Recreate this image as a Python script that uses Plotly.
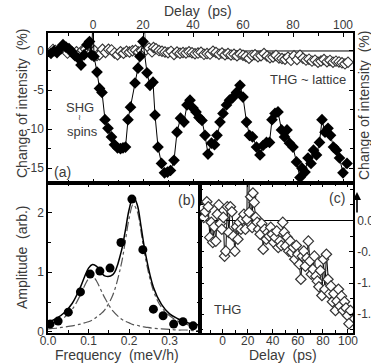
import plotly.graph_objects as go

# ---------------- data ----------------
# Panel (a): SHG (spins), filled diamonds
shg_delay = [-16.8, -15.6, -14.4, -13.2, -12.0, -10.8, -9.6, -8.4, -7.2, -6.0, -4.8, -3.6, -2.4, -1.4, -0.6,
             0.0, 0.4, 1.6, 2.6, 3.6, 4.8, 6.0, 7.4, 8.6, 9.8, 11.0, 12.0, 13.0, 14.0, 15.0, 16.8, 18.0, 18.8,
             20.0, 21.6, 22.8, 24.0, 24.8, 26.0, 27.4, 28.6, 29.8, 31.0, 32.4, 33.6, 35.0, 36.4, 37.6, 38.8,
             40.0, 41.2, 42.4, 43.6, 44.8, 46.0, 47.4, 48.6, 49.6, 50.8, 52.0, 53.4, 54.6, 55.8, 57.4, 58.8,
             60.0, 61.4, 62.6, 63.8, 65.4, 66.8, 68.0, 69.4, 70.6, 71.6, 72.8, 74.0, 75.4, 76.6, 77.6, 78.6,
             80.0, 81.4, 82.8, 83.6, 84.8, 86.0, 87.2, 88.2, 89.4, 90.6, 91.6, 92.8, 94.0, 95.0, 96.2, 97.4,
             98.6, 100.0, 101.6]
shg_value = [-0.3, 0.0, -0.2, 0.3, 0.8, 0.5, 0.3, -0.1, -0.6, -0.9, -1.8, -0.5, 0.8, 1.2, -0.5,
             4.0, -0.7, -2.7, -4.8, -5.3, -8.8, -9.9, -11.0, -12.0, -12.4, -12.5, -12.4, -12.3, -8.8, -7.2,
             -4.1, -2.2, -0.7, 1.2, -2.8, -4.4, -4.0, -8.2, -12.3, -14.4, -15.6, -15.5, -15.3, -14.0, -10.4,
             -8.6, -9.1, -6.9, -6.3, -7.3, -7.8, -8.5, -8.9, -10.8, -13.2, -11.8, -12.0, -10.8, -9.1, -8.0,
             -6.9, -6.3, -6.0, -5.3, -4.4, -5.9, -9.1, -10.8, -11.0, -12.3, -13.3, -12.1, -11.7, -11.7, -8.8,
             -8.0, -7.8, -10.1, -11.0, -10.1, -11.8, -12.3, -14.2, -16.2, -15.0, -15.5, -13.7, -14.4, -12.7,
             -13.3, -11.7, -8.8, -10.4, -9.9, -10.8, -12.3, -12.7, -13.7, -15.6, -14.4]

# THG (lattice), open diamonds, shown in panel (a) and enlarged in panel (c)
thg_delay = [-16.0, -15.0, -13.8, -12.6, -11.4, -10.2, -9.0, -7.8, -6.6, -5.4, -4.2, -3.0, -1.8, -0.6, 0.6,
             1.6, 2.6, 3.8, 5.0, 6.2, 7.4, 8.6, 9.8, 11.0, 12.2, 13.4, 14.6, 15.8, 17.0, 18.2, 19.4, 20.6,
             21.2, 22.4, 23.6, 24.2, 25.2, 26.4, 27.6, 28.8, 30.0, 31.2, 32.4, 33.6, 34.8, 36.0, 37.2, 38.4,
             39.6, 40.8, 42.0, 43.2, 44.4, 45.6, 46.8, 48.0, 49.2, 50.4, 51.6, 52.8, 54.0, 55.2, 56.4, 57.6,
             58.8, 60.0, 61.2, 62.4, 63.6, 64.8, 66.0, 67.2, 68.4, 69.6, 70.8, 72.0, 73.2, 74.4, 75.6, 76.8,
             78.0, 79.2, 80.4, 81.6, 82.8, 84.0, 85.2, 86.4, 87.6, 88.8, 90.0, 91.2, 92.4, 93.6, 94.8, 96.0,
             97.2, 98.4, 99.6, 100.8, 102.0]
thg_value = [0.20, 0.05, 0.14, 0.30, 0.22, -0.27, -0.03, -0.35, -0.10, -0.33, 0.10, 0.25, -0.05, -0.14, 0.05,
             -0.57, -0.49, 0.22, -0.19, 0.22, 0.14, -0.25, -0.49, -0.10, -0.30, -0.03, -0.14, 0.02, 0.10, -0.14,
             0.02, 3.0, 0.13, 0.38, -0.11, 0.44, 0.29, 0.05, -0.03, -0.14, -0.22, -0.05, -0.46, -0.14, -0.30,
             -0.19, -0.25, -0.11, -0.22, -0.35, -0.27, -0.17, -0.43, -0.33, -0.40, -0.03, -0.19, -0.41, -0.27,
             -0.49, -0.33, -0.51, -0.43, -0.62, -0.40, -0.54, -0.70, -0.94, -0.57, -0.49, -0.73, -0.60, -0.33,
             -0.65, -0.86, -0.78, -0.57, -0.89, -0.97, -1.06, -0.80, -1.20, -0.62, -1.10, -0.54, -0.94, -1.17,
             -1.05, -1.30, -1.17, -1.44, -1.29, -1.10, -1.37, -1.21, -1.44, -1.30, -1.40, -1.52, -1.65, -1.44]

# Panel (b): spectral amplitude
freq_pts = [0.005, 0.025, 0.05, 0.08, 0.104, 0.128, 0.153, 0.18, 0.207, 0.234, 0.26, 0.284, 0.31, 0.333, 0.358]
amp_pts = [0.13, 0.18, 0.33, 0.67, 0.97, 1.02, 1.07, 1.50, 2.23, 1.38, 0.38, 0.27, 0.13, 0.17, 0.10]

fit_freq = [0.0, 0.02, 0.04, 0.06, 0.08, 0.09, 0.10, 0.11, 0.12, 0.13, 0.14, 0.16, 0.18, 0.19, 0.20, 0.21,
            0.22, 0.23, 0.24, 0.26, 0.28, 0.30, 0.32, 0.34, 0.36, 0.375]
fit_total = [0.16, 0.22, 0.32, 0.48, 0.75, 0.92, 1.07, 1.13, 1.10, 1.01, 0.94, 0.96, 1.33, 1.67, 2.05, 2.27,
             2.14, 1.75, 1.33, 0.75, 0.46, 0.30, 0.22, 0.16, 0.13, 0.11]
fit_low = [0.11, 0.16, 0.24, 0.38, 0.62, 0.77, 0.89, 0.93, 0.85, 0.71, 0.57, 0.35, 0.22, 0.18, 0.15, 0.12,
           0.11, 0.09, 0.08, 0.06, 0.05, 0.04, 0.03, 0.03, 0.02, 0.02]
fit_high = [0.05, 0.06, 0.08, 0.10, 0.13, 0.15, 0.17, 0.20, 0.25, 0.30, 0.37, 0.62, 1.11, 1.49, 1.90, 2.14,
            2.03, 1.66, 1.25, 0.69, 0.41, 0.27, 0.18, 0.13, 0.10, 0.09]

delay_ticks = [0, 20, 40, 60, 80, 100]
a_yticks = [0, -5, -10, -15]
b_xticks = [0.0, 0.1, 0.2, 0.3]
b_yticks = [0, 1, 2]
c_yticks = [0.0, -0.5, -1.0, -1.5]

# ---------------- figure ----------------
W, H = 371, 364
FONT = "Liberation Sans, Arial, sans-serif"
TXT = "#3a3a3a"


def px(x):
    return x / W


def py(y):
    return 1 - y / H


fig = go.Figure()

# panel (a)
fig.add_trace(go.Scatter(x=thg_delay, y=thg_value, mode="lines+markers", xaxis="x", yaxis="y",
                         line=dict(color="#444", width=0.8),
                         marker=dict(symbol="diamond", size=8, color="white",
                                     line=dict(color="#333", width=1.1)),
                         showlegend=False))
fig.add_trace(go.Scatter(x=shg_delay, y=shg_value, mode="lines+markers", xaxis="x", yaxis="y",
                         line=dict(color="black", width=1),
                         marker=dict(symbol="diamond", size=9, color="black"),
                         showlegend=False))

# panel (b)
fig.add_trace(go.Scatter(x=fit_freq, y=fit_low, mode="lines", xaxis="x2", yaxis="y2",
                         line=dict(color="#555", width=1.2, dash="dashdot", shape="spline"), showlegend=False))
fig.add_trace(go.Scatter(x=fit_freq, y=fit_high, mode="lines", xaxis="x2", yaxis="y2",
                         line=dict(color="#555", width=1.2, dash="dashdot", shape="spline"), showlegend=False))
fig.add_trace(go.Scatter(x=fit_freq, y=fit_total, mode="lines", xaxis="x2", yaxis="y2",
                         line=dict(color="black", width=1.5, shape="spline"), showlegend=False))
fig.add_trace(go.Scatter(x=freq_pts, y=amp_pts, mode="markers", xaxis="x2", yaxis="y2",
                         marker=dict(symbol="circle", size=9, color="black"), showlegend=False))

# panel (c)
fig.add_trace(go.Scatter(x=thg_delay, y=thg_value, mode="lines+markers", xaxis="x3", yaxis="y3",
                         line=dict(color="black", width=1),
                         marker=dict(symbol="diamond", size=8, color="white",
                                     line=dict(color="#333", width=1.2)),
                         showlegend=False))

axis_common = dict(showline=True, linecolor="black", linewidth=1.5, mirror="ticks", ticks="inside",
                   ticklen=4, tickcolor="black", tickwidth=1, showgrid=False, zeroline=False,
                   automargin=False, tickfont=dict(family=FONT, size=12, color=TXT))
minor_common = dict(ticks="inside", ticklen=3, tickcolor="black", tickwidth=1, showgrid=False)

dom_ax = [px(48), px(353)]
dom_ay = [py(183), py(33)]
dom_bx = [px(48), px(200)]
dom_cx = [px(200), px(353)]
dom_by = [py(333), py(183)]

fig.update_layout(
    width=W, height=H, autosize=False, margin=dict(l=0, r=0, t=0, b=0),
    paper_bgcolor="white", plot_bgcolor="white", template="none",
    font=dict(family=FONT, color=TXT),
    xaxis=dict(axis_common, domain=dom_ax, anchor="y", side="top", range=[-18, 104],
               tickvals=delay_ticks, ticktext=[str(v) for v in delay_ticks], ticklabelstandoff=-3,
               minor=dict(minor_common, dtick=10, tick0=0)),
    yaxis=dict(axis_common, domain=dom_ay, anchor="x", range=[-16.9, 2.3],
               tickvals=a_yticks, ticktext=[str(v) for v in a_yticks],
               minor=dict(minor_common, dtick=2.5, tick0=0)),
    xaxis2=dict(axis_common, domain=dom_bx, anchor="y2", range=[0, 0.375],
                tickvals=b_xticks, ticktext=["%.1f" % v for v in b_xticks], ticklabelstandoff=-4,
                minor=dict(minor_common, dtick=0.05, tick0=0)),
    yaxis2=dict(axis_common, domain=dom_by, anchor="x2", range=[-0.02, 2.5],
                tickvals=b_yticks, ticktext=[str(v) for v in b_yticks],
                minor=dict(minor_common, dtick=0.5, tick0=0)),
    xaxis3=dict(axis_common, domain=dom_cx, anchor="y3", range=[-18, 104],
                tickvals=delay_ticks, ticktext=[str(v) for v in delay_ticks], ticklabelstandoff=-4,
                minor=dict(minor_common, dtick=10, tick0=0)),
    yaxis3=dict(axis_common, domain=dom_by, anchor="x3", side="right", range=[-1.8, 0.6],
                tickvals=c_yticks, ticktext=["%.1f" % v for v in c_yticks],
                minor=dict(minor_common, dtick=0.25, tick0=0)),
)

# zero reference lines
fig.add_shape(type="line", xref="x domain", yref="y", x0=0, x1=1, y0=0, y1=0,
              line=dict(color="black", width=1), layer="below")
fig.add_shape(type="line", xref="x3 domain", yref="y3", x0=0, x1=1, y0=0, y1=0,
              line=dict(color="black", width=1), layer="below")


def label(text, x, y, size=13, angle=0, xanchor="center"):
    fig.add_annotation(text=text, x=px(x), y=py(y), xref="paper", yref="paper", showarrow=False,
                       textangle=angle, xanchor=xanchor, yanchor="middle", borderpad=0,
                       font=dict(family=FONT, size=size, color=TXT))


label("Delay  (ps)", 198, 11, 14)
label("Frequency  (meV/h)", 117, 355, 14)
label("Delay  (ps)", 283, 355, 14)
label("Change of intensity  (%)", 22, 104, 14, -90)
label("Amplitude  (arb.)", 22, 258, 14, -90)
label("Change of intensity  (%)", 364, 106, 14, -90)
label("(a)", 63, 172, 14)
label("(b)", 186, 200, 14)
label("(c)", 337, 198, 14)
label("THG ~ lattice", 347, 79, 13, xanchor="right")
label("SHG", 80, 107, 13)
label("≀", 79, 118, 8)
label("spins", 82, 131, 13)
label("THG", 227, 309, 13)

# upward arrow beside the right-hand axis title
fig.add_annotation(x=px(357), y=py(192), xref="paper", yref="paper", ax=0, ay=22, text="",
                   showarrow=True, arrowhead=2, arrowsize=1, arrowwidth=1.6, arrowcolor="black")

fig.write_html("out.html")
